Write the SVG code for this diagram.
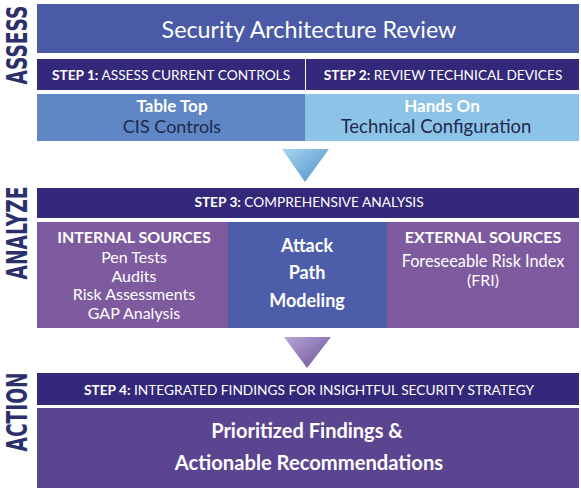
<svg xmlns="http://www.w3.org/2000/svg" width="581" height="489" viewBox="0 0 581 489">
<style>
text{font-family:Lato,"Open Sans",sans-serif;text-anchor:middle}
.w{fill:#ffffff}
.d{fill:#1f2a4c}
.b{font-weight:bold}
.step{font-size:13.7px;fill:#ffffff}
.side{font-family:"DejaVu Sans Condensed","DejaVu Sans",sans-serif;font-weight:bold;font-size:22px;fill:#2b2f6b}
.bar{fill:#33287a}
</style>
<defs>
<linearGradient id="gb" x1="0" y1="0" x2="1" y2="1">
<stop offset="0" stop-color="#a6d6f2"/><stop offset="1" stop-color="#4f8fc8"/>
</linearGradient>
<linearGradient id="gp" x1="0" y1="0" x2="1" y2="1">
<stop offset="0" stop-color="#b7a3d6"/><stop offset="1" stop-color="#6a5499"/>
</linearGradient>
</defs>
<rect width="581" height="489" fill="#ffffff"/>
<g id="side-labels">
<text class="side" transform="translate(27,45) rotate(-90) scale(1,1.3)" textLength="79" lengthAdjust="spacingAndGlyphs">ASSESS</text>
<text class="side" transform="translate(27,233) rotate(-90) scale(1,1.3)" textLength="93" lengthAdjust="spacingAndGlyphs">ANALYZE</text>
<text class="side" transform="translate(27,412) rotate(-90) scale(1,1.3)" textLength="79" lengthAdjust="spacingAndGlyphs">ACTION</text>
</g>
<g id="title">
<rect x="37" y="4" width="542" height="49" fill="#4a5aa6"/>
<text class="w" x="309" y="38" font-size="23.3">Security Architecture Review</text>
</g>
<g id="step1">
<rect class="bar" x="37" y="59" width="268" height="31"/>
<text class="step" x="171" y="80"><tspan class="b">STEP 1:</tspan> ASSESS CURRENT CONTROLS</text>
</g>
<g id="step2">
<rect class="bar" x="306" y="59" width="273" height="31"/>
<text class="step" x="443" y="80"><tspan class="b">STEP 2:</tspan> REVIEW TECHNICAL DEVICES</text>
</g>
<g id="tabletop">
<rect x="37" y="94" width="268" height="47" fill="#5f86c5"/>
<text class="w b" x="172" y="112" font-size="17">Table Top</text>
<text class="d" x="172" y="133" font-size="18">CIS Controls</text>
</g>
<g id="handson">
<rect x="305" y="94" width="274" height="47" fill="#8ec3e8"/>
<text class="w b" x="442" y="112" font-size="17">Hands On</text>
<text class="d" x="436" y="133" font-size="18.5">Technical Configuration</text>
</g>
<g id="connectors">
<polygon points="282,149 329,149 305,182" fill="url(#gb)"/>
<polygon points="284,337 331,337 307,368" fill="url(#gp)"/>
</g>
<g id="step3">
<rect class="bar" x="37" y="188" width="542" height="30"/>
<text class="step" x="309" y="207" font-size="14"><tspan class="b">STEP 3:</tspan> COMPREHENSIVE ANALYSIS</text>
</g>
<g id="internal">
<rect x="37" y="222" width="191" height="106" fill="#7e5a9e"/>
<text class="w b" x="134" y="243" font-size="16">INTERNAL SOURCES</text>
<text class="w" x="134" y="263" font-size="16">Pen Tests</text>
<text class="w" x="134" y="281.5" font-size="16">Audits</text>
<text class="w" x="134" y="300" font-size="16">Risk Assessments</text>
<text class="w" x="134" y="318.5" font-size="16">GAP Analysis</text>
</g>
<g id="attack">
<rect x="228" y="222" width="159" height="106" fill="#4c5ea9"/>
<text class="w b" x="307" y="252" font-size="18">Attack</text>
<text class="w b" x="307" y="279" font-size="18">Path</text>
<text class="w b" x="307" y="307" font-size="18">Modeling</text>
</g>
<g id="external">
<rect x="387" y="222" width="192" height="106" fill="#7e5a9e"/>
<text class="w b" x="483" y="243" font-size="16">EXTERNAL SOURCES</text>
<text class="w" x="483" y="267" font-size="16.3">Foreseeable Risk Index</text>
<text class="w" x="483" y="285.5" font-size="16">(FRI)</text>
</g>
<g id="step4">
<rect class="bar" x="37" y="373" width="542" height="32"/>
<text class="step" x="309" y="395"><tspan class="b">STEP 4:</tspan> INTEGRATED FINDINGS FOR INSIGHTFUL SECURITY STRATEGY</text>
</g>
<g id="findings">
<rect x="37" y="408" width="542" height="80" fill="#5b4590"/>
<text class="w b" x="307" y="438" font-size="20">Prioritized Findings &amp;</text>
<text class="w b" x="309" y="470" font-size="20.2">Actionable Recommendations</text>
</g>
</svg>
